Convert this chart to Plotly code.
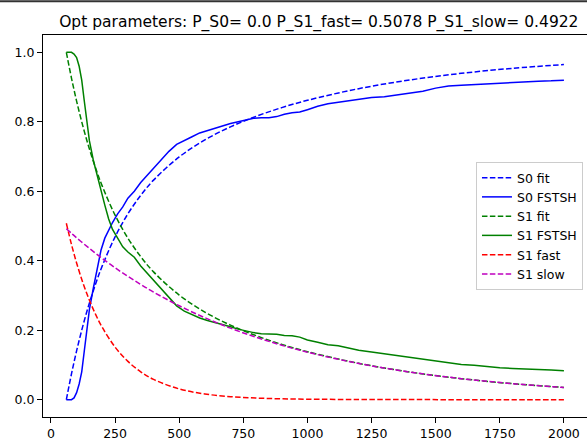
import plotly.graph_objects as go

# ---- data ----
fit_t = [60, 80, 100, 125, 150, 175, 200, 250, 300, 350, 400, 500, 600, 700, 800,
         900, 1000, 1200, 1400, 1600, 1800, 2000]
s0_fit = [0.0, 0.0739, 0.1403, 0.2138, 0.2783, 0.3351, 0.3851, 0.4687, 0.5350, 0.5883,
          0.6321, 0.6989, 0.7478, 0.7856, 0.8158, 0.8409, 0.8620, 0.8955, 0.9206,
          0.9396, 0.9540, 0.9650]
s1_fit = [1.0, 0.9261, 0.8597, 0.7862, 0.7217, 0.6649, 0.6149, 0.5313, 0.4650, 0.4117,
          0.3679, 0.3011, 0.2522, 0.2144, 0.1842, 0.1591, 0.1380, 0.1045, 0.0794,
          0.0604, 0.0460, 0.0350]
s1_fast = [0.5078, 0.4471, 0.3936, 0.3357, 0.2863, 0.2441, 0.2081, 0.1514, 0.1101,
           0.0801, 0.0582, 0.0308, 0.0163, 0.0086, 0.0046, 0.0024, 0.0013, 0.0004,
           0.0001, 0.0, 0.0, 0.0]
s1_slow = [0.4922, 0.4790, 0.4661, 0.4505, 0.4354, 0.4208, 0.4068, 0.3799, 0.3549,
           0.3316, 0.3097, 0.2703, 0.2359, 0.2058, 0.1796, 0.1567, 0.1367, 0.1041,
           0.0793, 0.0604, 0.0460, 0.0350]

sim_t = [60, 70, 80, 90, 100, 110, 120, 130, 140, 150, 165, 180, 195, 210, 225, 240,
         260, 280, 300, 325, 350, 375, 400, 430, 460, 490, 520, 550, 580, 610, 640,
         670, 700, 730, 760, 790, 820, 850, 880, 910, 940, 970, 1000, 1040, 1080,
         1120, 1160, 1200, 1250, 1300, 1350, 1400, 1450, 1500, 1550, 1600, 1650,
         1700, 1750, 1800, 1850, 1900, 1950, 2000]
s0_fstsh = [0.0, 0.0, 0.0, 0.005, 0.02, 0.045, 0.08, 0.14, 0.2, 0.26, 0.32, 0.38,
            0.43, 0.465, 0.49, 0.51, 0.535, 0.555, 0.58, 0.60, 0.625, 0.645, 0.665,
            0.69, 0.715, 0.735, 0.745, 0.757, 0.768, 0.775, 0.782, 0.788, 0.795,
            0.80, 0.806, 0.810, 0.812, 0.812, 0.815, 0.822, 0.826, 0.828, 0.835,
            0.845, 0.852, 0.856, 0.86, 0.865, 0.87, 0.872, 0.878, 0.884, 0.888,
            0.897, 0.903, 0.905, 0.907, 0.91, 0.913, 0.914, 0.915, 0.917, 0.918, 0.92]
s1_fstsh = [1.0, 1.0, 1.0, 0.995, 0.985, 0.96, 0.92, 0.86, 0.8, 0.745, 0.69, 0.645,
            0.605, 0.56, 0.52, 0.49, 0.465, 0.44, 0.425, 0.41, 0.385, 0.365, 0.345,
            0.32, 0.295, 0.27, 0.255, 0.245, 0.235, 0.228, 0.222, 0.218, 0.21,
            0.203, 0.197, 0.193, 0.19, 0.19, 0.188, 0.185, 0.184, 0.18, 0.172,
            0.165, 0.158, 0.155, 0.148, 0.142, 0.137, 0.132, 0.126, 0.122, 0.116,
            0.11, 0.106, 0.101, 0.099, 0.095, 0.092, 0.09, 0.089, 0.087, 0.085, 0.083]

x_ticks = [0, 250, 500, 750, 1000, 1250, 1500, 1750, 2000]
y_ticks = [0.0, 0.2, 0.4, 0.6, 0.8, 1.0]
title_text = "Opt parameters: P_S0= 0.0 P_S1_fast= 0.5078 P_S1_slow= 0.4922"

DASH = "5.5px,2.4px"
series = [
    ("S0 fit", fit_t, s0_fit, "#0000ff", DASH, "spline"),
    ("S0 FSTSH", sim_t, s0_fstsh, "#0000ff", "solid", "linear"),
    ("S1 fit", fit_t, s1_fit, "#008000", DASH, "spline"),
    ("S1 FSTSH", sim_t, s1_fstsh, "#008000", "solid", "linear"),
    ("S1 fast", fit_t, s1_fast, "#ff0000", DASH, "spline"),
    ("S1 slow", fit_t, s1_slow, "#bf00bf", DASH, "spline"),
]

fig = go.Figure()
for name, xs, ys, col, dash, shape in series:
    fig.add_trace(go.Scatter(x=xs, y=ys, mode="lines", name=name,
                             line=dict(color=col, width=1.5, dash=dash, shape=shape)))

FONT = "DejaVu Sans"
fig.update_layout(
    width=587, height=441,
    margin=dict(l=43, r=0, t=35, b=22),
    paper_bgcolor="white", plot_bgcolor="white",
    font=dict(family=FONT, size=12.5, color="black"),
    title=dict(text=title_text, x=0.507, xref="paper", xanchor="center",
               y=1 - 22 / 441, yref="container", yanchor="middle",
               font=dict(family=FONT, size=15.5, color="black")),
    xaxis=dict(range=[-31, 2090], tickvals=x_ticks, ticktext=[str(v) for v in x_ticks],
               showgrid=False, zeroline=False, showline=True, linecolor="black",
               linewidth=1, mirror=True, ticks="outside", ticklen=5, tickcolor="black",
               tickfont=dict(family=FONT, size=12.5, color="black")),
    yaxis=dict(range=[-0.05, 1.05], tickvals=y_ticks,
               ticktext=["%.1f" % v for v in y_ticks],
               showgrid=False, zeroline=False, showline=True, linecolor="black",
               linewidth=1, ticks="outside", ticklen=5, tickcolor="black",
               tickfont=dict(family=FONT, size=12.5, color="black")),
    legend=dict(x=0.9926, xanchor="right", y=0.5, yanchor="middle",
                bgcolor="rgba(255,255,255,0.8)", bordercolor="#cccccc", borderwidth=1,
                font=dict(family=FONT, size=12.5, color="black"), itemwidth=30),
    shapes=[dict(type="line", xref="paper", yref="paper", x0=-43 / 544, x1=1,
                 y0=(419 - 1) / 384, y1=(419 - 1) / 384,
                 line=dict(color="#333333", width=2))],
    showlegend=True,
)

fig.write_html("out.html")
